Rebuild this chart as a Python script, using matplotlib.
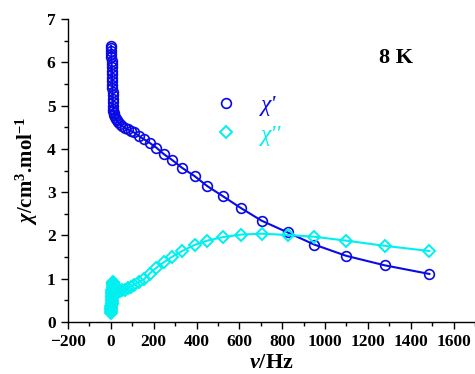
import numpy as np
import matplotlib
matplotlib.use("Agg")
import matplotlib.pyplot as plt
from matplotlib.lines import Line2D
from matplotlib.ticker import MultipleLocator

# frequency (Hz)
freq = [1, 1.5, 2, 2.5, 3, 3.5, 4, 4.5, 5, 5.5,
        6, 6.5, 7, 7.5, 8, 8.5, 9, 9.5, 10, 11,
        12, 14, 16, 19, 23, 28, 34, 42, 52, 64,
        78, 92, 108, 130, 155, 181, 212, 247, 287, 333,
        391, 450, 522, 608, 704, 825, 949, 1098, 1278, 1487]

# in-phase chi'
chi1 = [6.38, 6.33, 6.27, 6.20, 6.12, 6.04, 5.96, 5.88, 5.80, 5.72,
        5.64, 5.56, 5.48, 5.40, 5.32, 5.24, 5.16, 5.08, 5.00, 4.93,
        4.87, 4.82, 4.78, 4.74, 4.70, 4.66, 4.62, 4.57, 4.53, 4.49,
        4.45, 4.42, 4.38, 4.30, 4.22, 4.14, 4.03, 3.88, 3.74, 3.56,
        3.37, 3.14, 2.91, 2.63, 2.34, 2.07, 1.79, 1.53, 1.31, 1.11]

# out-of-phase chi''
chi2 = [0.21, 0.25, 0.29, 0.33, 0.37, 0.41, 0.45, 0.49, 0.53, 0.57,
        0.61, 0.65, 0.69, 0.73, 0.77, 0.81, 0.85, 0.88, 0.91, 0.93,
        0.90, 0.85, 0.80, 0.76, 0.73, 0.71, 0.70, 0.71, 0.73, 0.75,
        0.78, 0.82, 0.86, 0.92, 0.99, 1.12, 1.25, 1.38, 1.51, 1.64,
        1.78, 1.88, 1.96, 2.02, 2.04, 2.01, 1.97, 1.88, 1.76, 1.64]

temp_label = "8 K"
legend_labels = ["\u03c7'", "\u03c7''"]

blue = "#0a0ae6"
cyan = "#00f0f0"

plt.rcParams["font.family"] = "Liberation Serif"
plt.rcParams["font.weight"] = "bold"
plt.rcParams["mathtext.fontset"] = "custom"
plt.rcParams["mathtext.rm"] = "Liberation Serif:bold"
plt.rcParams["mathtext.it"] = "Liberation Serif:italic:bold"
plt.rcParams["mathtext.bf"] = "Liberation Serif:bold"

fig = plt.figure(figsize=(4.75, 3.74), dpi=100)
ax = fig.add_axes([68 / 475, 1 - 322 / 374, 1 - 68 / 475, (322 - 19) / 374])

ax.plot(freq, chi1, color=blue, lw=1.5, marker="o", ms=7, mfc="none",
        mec=blue, mew=1.2)
ax.plot(freq, chi2, color=cyan, lw=1.5, marker="D", ms=6, mfc="none",
        mec=cyan, mew=1.4)

ax.set_xlim(-200, 1700)
ax.set_ylim(0, 7)
ax.xaxis.set_major_locator(MultipleLocator(200))
ax.xaxis.set_minor_locator(MultipleLocator(100))
ax.yaxis.set_major_locator(MultipleLocator(1))
ax.yaxis.set_minor_locator(MultipleLocator(0.5))
ax.tick_params(which="major", direction="out", length=5, width=1,
               labelsize=12.5, pad=4)
ax.tick_params(which="minor", direction="out", length=3, width=1)
ax.set_xticks(np.arange(-200, 1601, 200))

for s in ["top", "right"]:
    ax.spines[s].set_visible(False)
for s in ["left", "bottom"]:
    ax.spines[s].set_linewidth(1.0)

ax.set_xlabel(r"$\nu$/Hz", fontsize=16, fontweight="bold", labelpad=2)
ax.set_ylabel(r"$\chi$/cm$^{3}$.mol$^{-1}$", fontsize=15, fontweight="bold",
              labelpad=5)

fig.text(396 / 475, 1 - 58 / 374, temp_label, fontsize=16, fontweight="bold",
         ha="center", va="center")

handles = [Line2D([], [], ls="none", marker="o", ms=7, mfc="none", mec=blue, mew=1.2),
           Line2D([], [], ls="none", marker="D", ms=6, mfc="none", mec=cyan, mew=1.4)]
leg = fig.legend(handles, legend_labels, loc="upper left",
                 bbox_to_anchor=(202 / 475, 1 - 83 / 374), frameon=False,
                 prop={"family": "Liberation Serif", "style": "italic",
                       "weight": "normal", "size": 17},
                 handlelength=1.0, handletextpad=1.0,
                 labelspacing=0.33, borderpad=0.0)
for t, c in zip(leg.get_texts(), [blue, cyan]):
    t.set_color(c)

fig.savefig("out.png", dpi=100)
